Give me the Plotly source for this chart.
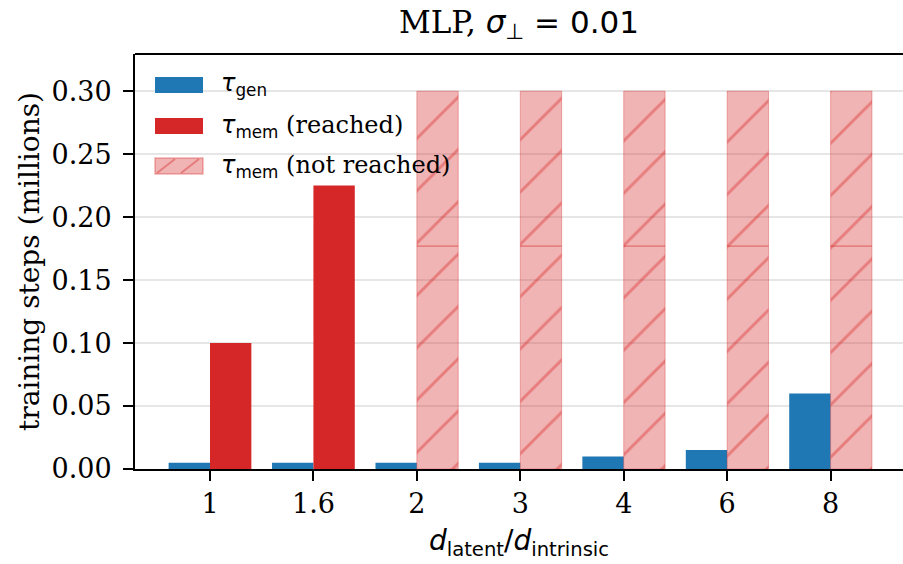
import plotly.graph_objects as go

categories = ["1", "1.6", "2", "3", "4", "6", "8"]
tau_gen = [0.005, 0.005, 0.005, 0.005, 0.010, 0.015, 0.060]
tau_mem_reached = [0.100, 0.225, None, None, None, None, None]
tau_mem_not_reached = [None, None, 0.300, 0.300, 0.300, 0.300, 0.300]
not_reached_split = [None, None, 0.177, 0.177, 0.177, 0.177, 0.177]
y_ticks = [0.00, 0.05, 0.10, 0.15, 0.20, 0.25, 0.30]

idx = list(range(len(categories)))
BLUE = "#1f77b4"
RED = "#d62728"
PINK = "rgba(214,39,40,0.35)"
HATCH = "rgba(214,39,40,0.40)"
EDGE = "rgba(214,39,40,0.35)"
SERIF = "DejaVu Serif"
MATH = "DejaVu Sans"
TICK_FS = 27
TITLE_FS = 31
AXT_FS = 28
LEG_FS = 24

fig = go.Figure()
fig.add_bar(x=idx, y=tau_gen, width=0.4, offset=-0.4,
            marker=dict(color=BLUE, line=dict(width=0)), showlegend=False)
fig.add_bar(x=idx, y=tau_mem_reached, width=0.4, offset=0,
            marker=dict(color=RED, line=dict(width=0)), showlegend=False)

lower = [s for s in not_reached_split]
upper = [(t - s) if t is not None else None for t, s in zip(tau_mem_not_reached, not_reached_split)]
pat = dict(shape="/", fillmode="replace", fgcolor=HATCH, bgcolor=PINK, size=37, solidity=0.08)
fig.add_bar(x=idx, y=lower, width=0.4, offset=0,
            marker=dict(pattern=pat, line=dict(color=EDGE, width=1)), showlegend=False)
fig.add_bar(x=idx, y=upper, base=lower, width=0.4, offset=0,
            marker=dict(pattern=pat, line=dict(color=EDGE, width=1)), showlegend=False)

def mathspan(s):
    return f"<span style='font-family:{MATH}'>{s}</span>"

fig.update_layout(
    width=903, height=564,
    margin=dict(l=135, r=0, t=54, b=95),
    plot_bgcolor="white", paper_bgcolor="white",
    barmode="overlay",
    font=dict(family=SERIF, size=TICK_FS, color="black"),
    title=dict(text="MLP, " + mathspan("<i>σ</i><sub>⊥</sub> = 0.01"),
               x=(135 + 903) / 2 / 903, xanchor="center",
               yref="container", y=1 - 22 / 564, yanchor="middle",
               font=dict(family=SERIF, size=TITLE_FS)),
    xaxis=dict(range=[-0.725, 6.70], tickvals=idx, ticktext=categories,
               showline=True, linecolor="black", linewidth=2,
               ticks="outside", ticklen=10, tickwidth=2, tickcolor="black",
               showgrid=False, zeroline=False, automargin=False,
               tickfont=dict(size=TICK_FS),
               title=dict(text=mathspan("<i>d</i><sub>latent</sub>/<i>d</i><sub>intrinsic</sub>"),
                          standoff=12, font=dict(size=AXT_FS))),
    yaxis=dict(range=[0, 0.3295], tickvals=y_ticks, ticktext=[f"{v:.2f}" for v in y_ticks],
               showline=True, linecolor="black", linewidth=2,
               ticks="outside", ticklen=10, tickwidth=2, tickcolor="black",
               ticklabelstandoff=6,
               showgrid=True, gridcolor="#e6e6e6", gridwidth=2, zeroline=False,
               automargin=False, tickfont=dict(size=TICK_FS),
               title=dict(text="training steps (millions)", standoff=4, font=dict(size=AXT_FS))),
)

# top spine
fig.add_shape(type="line", xref="paper", yref="paper", x0=0, x1=1, y0=1, y1=1,
              line=dict(color="black", width=2))

# manual legend
def px_x(p):
    return (p - 135) / 768
def px_y(p):
    return (469 - p) / 415

hx0, hx1 = 155, 203
entries = [
    (85, BLUE, mathspan("<i>τ</i><sub>gen</sub>"), False),
    (126, RED, mathspan("<i>τ</i><sub>mem</sub>") + " (reached)", False),
    (166, PINK, mathspan("<i>τ</i><sub>mem</sub>") + " (not reached)", True),
]
for cy, col, txt, hatched in entries:
    fig.add_shape(type="rect", xref="paper", yref="paper",
                  x0=px_x(hx0), x1=px_x(hx1), y0=px_y(cy + 8), y1=px_y(cy - 8),
                  fillcolor=col, line=dict(color=EDGE if hatched else col, width=1.5 if hatched else 0))
    if hatched:
        for a, b in [(hx0 + 2, hx0 + 20), (hx0 + 26, hx0 + 44)]:
            fig.add_shape(type="line", xref="paper", yref="paper",
                          x0=px_x(a), x1=px_x(b), y0=px_y(cy + 7), y1=px_y(cy - 7),
                          line=dict(color=HATCH, width=2))
    fig.add_annotation(xref="paper", yref="paper", x=px_x(219), y=px_y(cy),
                       xanchor="left", yanchor="middle", showarrow=False, text=txt,
                       font=dict(family=SERIF, size=LEG_FS))

fig.write_html("out.html", config={"displayModeBar": False},
               post_script="document.body.style.margin='0';document.body.style.overflow='hidden';")
